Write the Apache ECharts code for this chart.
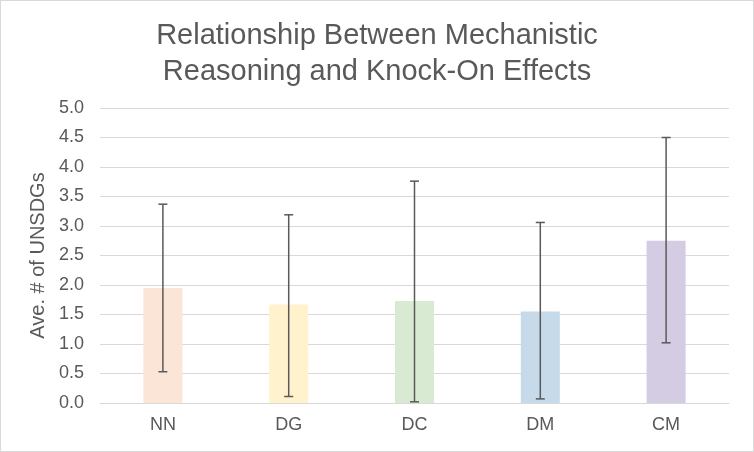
<!DOCTYPE html>
<html><head><meta charset="utf-8">
<script src="https://cdn.jsdelivr.net/npm/echarts@6/dist/echarts.min.js"></script>
<style>html,body{margin:0;padding:0;background:#fff}#c{width:754px;height:452px;box-sizing:border-box;border:1px solid #D9D9D9}</style>
</head><body><div id="c"></div>
<script>
const categories = ['NN', 'DG', 'DC', 'DM', 'CM'];
const means = [1.95, 1.67, 1.73, 1.55, 2.75];
const errLow = [0.53, 0.11, 0.02, 0.07, 1.02];
const errHigh = [3.37, 3.19, 3.76, 3.06, 4.50];
const barColors = ['#FBE5D6', '#FFF2CC', '#D9EAD3', '#C6DAEA', '#D3CCE3'];

const chart = echarts.init(document.getElementById('c'));
const font = 'Liberation Sans, Arial, sans-serif';
chart.setOption({
  animation: false,
  title: {
    text: 'Relationship Between Mechanistic\nReasoning and Knock-On Effects',
    left: 'center', top: 12,
    textStyle: { fontFamily: font, fontSize: 29, fontWeight: 'normal', color: '#595959', lineHeight: 36 }
  },
  grid: { left: 99, right: 24, top: 107, bottom: 48, containLabel: false },
  xAxis: {
    type: 'category', data: categories,
    axisLine: { lineStyle: { color: '#D9D9D9', width: 1 } },
    axisTick: { show: false },
    axisLabel: { fontFamily: font, fontSize: 18, color: '#595959', margin: 13 }
  },
  yAxis: {
    type: 'value', min: 0, max: 5, interval: 0.5,
    name: 'Ave. # of UNSDGs', nameLocation: 'middle', nameGap: 48,
    nameTextStyle: { fontFamily: font, fontSize: 20, color: '#595959' },
    axisLine: { show: false }, axisTick: { show: false },
    axisLabel: { fontFamily: font, fontSize: 18, color: '#595959', margin: 16, formatter: v => v.toFixed(1) },
    splitLine: { lineStyle: { color: '#D9D9D9', width: 1 } }
  },
  series: [
    {
      type: 'bar', barWidth: '31%',
      data: means.map((v, i) => ({ value: v, itemStyle: { color: barColors[i] } }))
    },
    {
      type: 'custom', z: 10,
      data: categories.map((c, i) => [i, errLow[i], errHigh[i]]),
      renderItem: function (params, api) {
        const x = api.value(0);
        const lo = api.coord([x, api.value(1)]);
        const hi = api.coord([x, api.value(2)]);
        const hw = 4.5;
        const style = { stroke: '#595959', lineWidth: 1.5 };
        return {
          type: 'group', children: [
            { type: 'line', shape: { x1: hi[0], y1: hi[1], x2: lo[0], y2: lo[1] }, style },
            { type: 'line', shape: { x1: hi[0] - hw, y1: hi[1], x2: hi[0] + hw, y2: hi[1] }, style },
            { type: 'line', shape: { x1: lo[0] - hw, y1: lo[1], x2: lo[0] + hw, y2: lo[1] }, style }
          ]
        };
      }
    }
  ]
});
</script></body></html>
